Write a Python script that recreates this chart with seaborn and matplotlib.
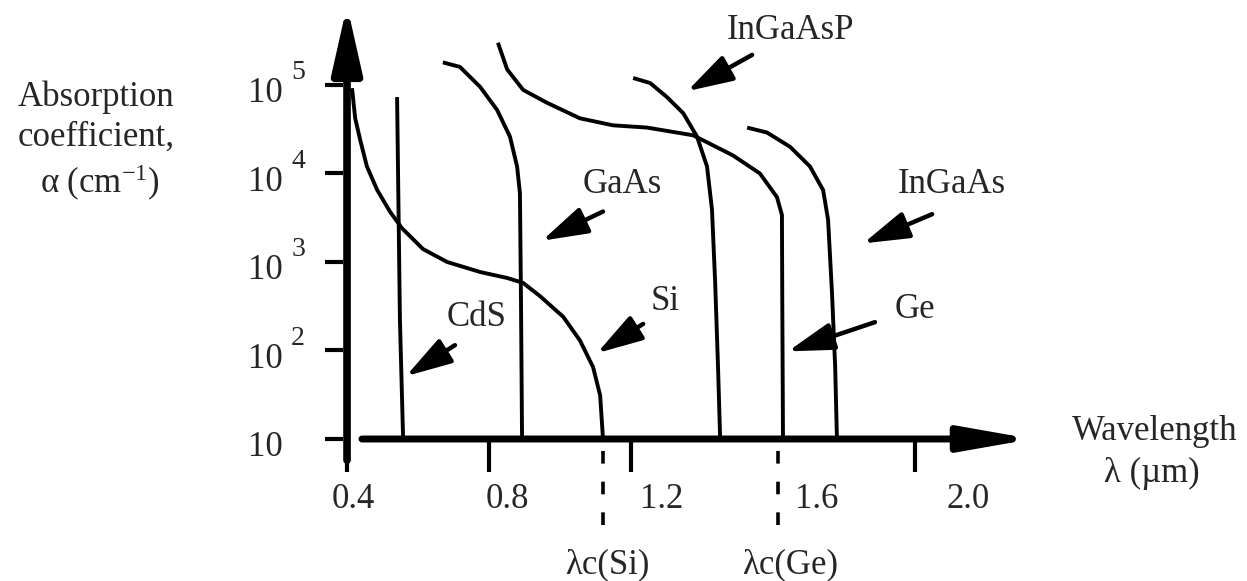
import numpy as np
import pandas as pd
import seaborn as sns
import matplotlib.pyplot as plt

sns.set_style('white')
plt.rcParams['font.family'] = ['Liberation Serif', 'DejaVu Serif']
plt.rcParams['mathtext.fontset'] = 'custom'
plt.rcParams['mathtext.rm'] = 'Liberation Serif'
plt.rcParams['mathtext.it'] = 'Liberation Serif:italic'

# absorption curves, wavelength in um, alpha in cm^-1
si_wl = [0.414, 0.423, 0.437, 0.456, 0.485, 0.521, 0.555, 0.614, 0.682,
         0.775, 0.851, 0.896, 0.944, 1.009, 1.056, 1.093, 1.113, 1.121]
si_alpha = [9.2e4, 4.2e4, 2.4e4, 1.2e4, 6.5e3, 3.7e3, 2.4e3, 1.4e3, 1.0e3,
            770, 660, 580, 410, 240, 130, 65, 31, 10]

cds_wl = [0.541, 0.549, 0.558]
cds_alpha = [7.3e4, 220, 10]

gaas_wl = [0.670, 0.718, 0.775, 0.823, 0.859, 0.879, 0.887, 0.890, 0.893]
gaas_alpha = [1.8e5, 1.6e5, 9.5e4, 5.2e4, 2.6e4, 1.2e4, 6.0e3, 370, 10]

ge_wl = [0.825, 0.851, 0.896, 0.963, 1.056, 1.149, 1.245, 1.375, 1.487,
         1.563, 1.611, 1.625, 1.626, 1.628]
ge_alpha = [3.0e5, 1.5e5, 8.8e4, 6.3e4, 4.2e4, 3.5e4, 3.3e4, 2.7e4, 1.6e4,
            1.0e4, 5.4e3, 3.4e3, 370, 10]

ingaasp_wl = [1.206, 1.254, 1.301, 1.347, 1.386, 1.414, 1.428, 1.437, 1.445, 1.451]
ingaasp_alpha = [1.2e5, 1.05e5, 7.3e4, 4.8e4, 2.6e4, 1.2e4, 3.9e3, 580, 65, 10]

ingaas_wl = [1.527, 1.583, 1.648, 1.704, 1.741, 1.755, 1.766, 1.775, 1.780]
ingaas_alpha = [3.3e4, 2.9e4, 2.0e4, 1.2e4, 6.5e3, 3.0e3, 450, 65, 10]

# axes decoration
xtick_vals = [0.4, 0.8, 1.2, 2.0]
xtick_labels = ['0.4', '0.8', '1.2', '1.6', '2.0']
xlabel_pos = [0.417, 0.851, 1.287, 1.724, 2.149]
ytick_exp = [1, 2, 3, 4, 5]
lambda_c = [1.12, 1.615]
lambda_c_labels = [r'λc(Si)', r'λc(Ge)']
lambda_c_pos = [1.132, 1.648]

# material labels: text position, arrow tail, arrow head
mat_names = ['InGaAsP', 'GaAs', 'Si', 'CdS', 'Ge', 'InGaAs']
mat_text = [(1.648, 10**5.62), (1.175, 10**3.87), (1.296, 10**2.55),
            (0.766, 10**2.37), (2.0, 10**2.46), (2.104, 10**3.87)]
arrow_tail = [(1.541, 10**5.34), (1.121, 10**3.57), (1.234, 10**2.30),
              (0.704, 10**2.06), (1.887, 10**2.32), (2.048, 10**3.54)]
arrow_head = [(1.358, 10**4.93), (0.949, 10**3.24), (1.104, 10**1.97),
              (0.566, 10**1.71), (1.642, 10**1.99), (1.854, 10**3.21)]

curves = {'Si': (si_wl, si_alpha), 'CdS': (cds_wl, cds_alpha),
          'GaAs': (gaas_wl, gaas_alpha), 'Ge': (ge_wl, ge_alpha),
          'InGaAsP': (ingaasp_wl, ingaasp_alpha), 'InGaAs': (ingaas_wl, ingaas_alpha)}
df = pd.concat([pd.DataFrame({'wl': w, 'alpha': a, 'material': m})
                for m, (w, a) in curves.items()], ignore_index=True)

fig = plt.figure(figsize=(12.47, 5.81), dpi=100)
ax = fig.add_axes([0, 0, 1, 1])
ax.set_yscale('log')
ax.set_xlim(-0.5775, 2.935)
ax.set_ylim(10**-0.6045, 10**5.96)
ax.set_axis_off()

sns.lineplot(data=df, x='wl', y='alpha', units='material', estimator=None,
             sort=False, color='black', lw=2.8, legend=False, ax=ax,
             solid_joinstyle='round', solid_capstyle='butt')

FS = 25
black = 'black'

# y axis with arrow
ax.annotate('', xy=(0.4, 10**5.9), xytext=(0.4, 10**0.76),
            arrowprops=dict(arrowstyle='-|>,head_length=1.6,head_width=0.36',
                            mutation_scale=25, lw=5.5, color=black,
                            shrinkA=0, shrinkB=0))
# x axis with arrow
ax.annotate('', xy=(2.33, 10), xytext=(0.442, 10),
            arrowprops=dict(arrowstyle='-|>,head_length=1.7,head_width=0.3',
                            mutation_scale=25, lw=5, color=black,
                            shrinkA=0, shrinkB=0))

# ticks
ax.hlines([10**k for k in ytick_exp], 0.338, 0.389, color=black, lw=3)
ax.vlines(xtick_vals, 10**0.63, 10, color=black, lw=3)
ax.vlines(lambda_c, 10**0.03, 10**0.91, color=black, lw=2.6,
          linestyles=(0, (3.5, 5)))

for k in ytick_exp:
    ax.text(0.169, 10**(k - 0.1), '10', fontsize=FS, ha='center', va='center')
    if k > 1:
        ax.text(0.262, 10**(k + 0.14), str(k), fontsize=20, ha='center', va='center')

for lab, xp in zip(xtick_labels, xlabel_pos):
    ax.text(xp, 10**0.311, lab, fontsize=FS, ha='center', va='center')

for lab, xp in zip(lambda_c_labels, lambda_c_pos):
    ax.text(xp, 10**-0.424, lab, fontsize=FS, ha='center', va='center')

for name, tp, tail, head in zip(mat_names, mat_text, arrow_tail, arrow_head):
    ax.text(tp[0], tp[1], name, fontsize=FS, ha='center', va='center')
    ax.annotate('', xy=head, xytext=tail,
                arrowprops=dict(arrowstyle='-|>,head_length=1.4,head_width=0.42',
                                mutation_scale=20, lw=3.2, color=black,
                                shrinkA=0, shrinkB=0))

# axis titles
ax.text(-0.307, 10**4.864, 'Absorption', fontsize=FS, ha='center', va='center')
ax.text(-0.307, 10**4.412, 'coefficient,', fontsize=FS, ha='center', va='center')
ax.text(-0.296, 10**3.893, r'α (cm$^{-1}$)', fontsize=FS, ha='center', va='center')
ax.text(2.676, 10**1.079, 'Wavelength', fontsize=FS, ha='center', va='center')
ax.text(2.668, 10**0.616, 'λ (µm)', fontsize=FS, ha='center', va='center')

fig.savefig('out.png', dpi=100)
